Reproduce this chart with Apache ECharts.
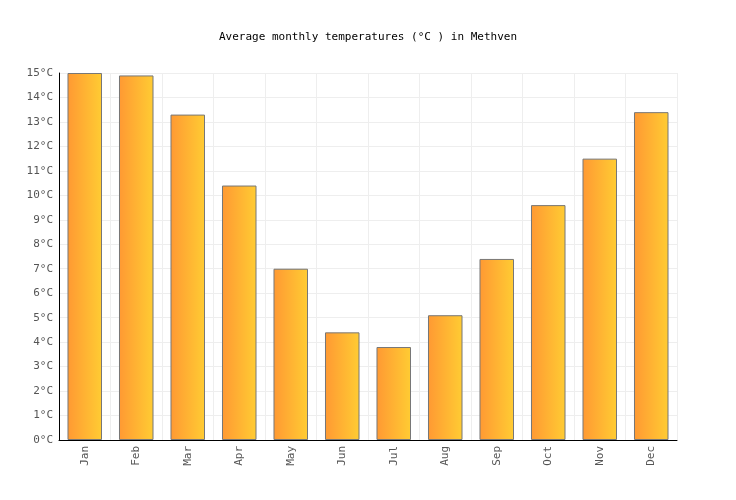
<!DOCTYPE html>
<html><head><meta charset="utf-8">
<script src="https://cdn.jsdelivr.net/npm/echarts@6/dist/echarts.min.js"></script>
<style>html,body{margin:0;padding:0;background:#fff}#c{width:736px;height:500px}</style>
</head><body><div id="c"></div>
<script>
const months = ['Jan','Feb','Mar','Apr','May','Jun','Jul','Aug','Sep','Oct','Nov','Dec'];
const temps = [15.0, 14.9, 13.3, 10.4, 7.0, 4.4, 3.8, 5.1, 7.4, 9.6, 11.5, 13.4];
const titleText = 'Average monthly temperatures (°C ) in Methven';
const font = 'DejaVu Sans Mono';
const chart = echarts.init(document.getElementById('c'));
chart.setOption({
  animation: false,
  title: {text: titleText, left: 'center', top: 27,
    textStyle: {fontFamily: font, fontSize: 11, fontWeight: 'normal', color: '#000'}},
  grid: {left: 59, right: 59, top: 73, bottom: 60},
  xAxis: {type: 'category', data: months, boundaryGap: true,
    axisLine: {lineStyle: {color: '#000'}}, axisTick: {show: false},
    axisLabel: {rotate: 90, fontFamily: font, fontSize: 11, color: '#555', margin: 6},
    splitLine: {show: true, lineStyle: {color: '#eeeeee'}}},
  yAxis: {type: 'value', min: 0, max: 15, interval: 1,
    axisLine: {show: true, lineStyle: {color: '#000'}}, axisTick: {show: false},
    axisLabel: {formatter: '{value}°C', fontFamily: font, fontSize: 11, color: '#555', margin: 6},
    splitLine: {show: true, lineStyle: {color: '#eeeeee'}}},
  series: [{type: 'bar', data: temps, barWidth: '67%',
    itemStyle: {borderColor: '#777', borderWidth: 1,
      color: new echarts.graphic.LinearGradient(0, 0, 1, 0, [
        {offset: 0, color: '#ff9933'}, {offset: 1, color: '#ffcc33'}])}}]
});
</script></body></html>
